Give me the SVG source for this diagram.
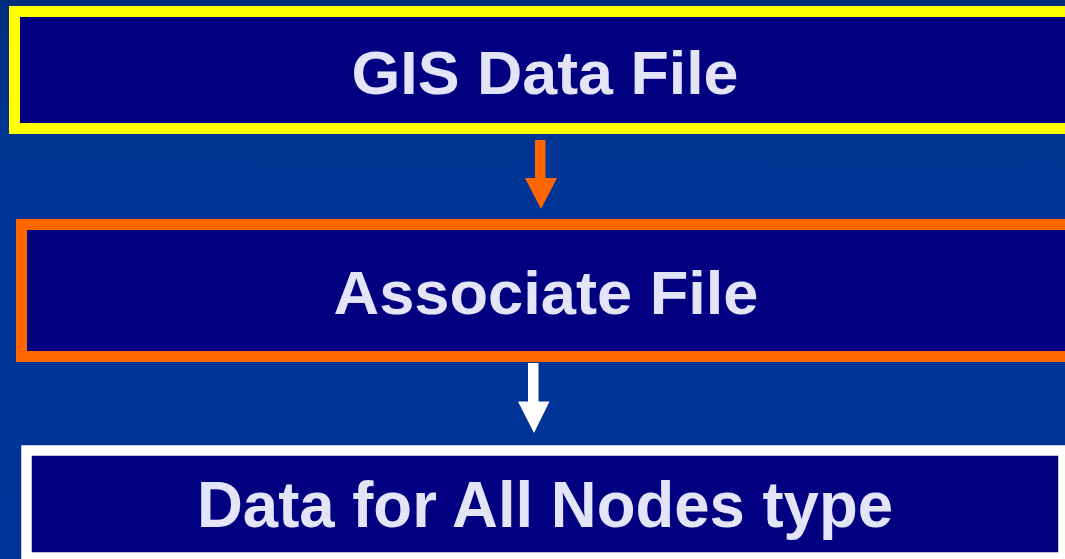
<svg xmlns="http://www.w3.org/2000/svg" width="1065" height="559" viewBox="0 0 1065 559">
<style>
.lbl{font-family:"Liberation Sans",Arial,sans-serif;font-weight:bold;font-size:62px;fill:#E4E4F8;text-anchor:middle}
.box{fill:#000080}
</style>
<defs>
<linearGradient id="bg" x1="0" y1="0" x2="0" y2="1">
<stop offset="0" stop-color="#002C7C"/>
<stop offset="0.25" stop-color="#003594"/>
<stop offset="1" stop-color="#003399"/>
</linearGradient>
</defs>
<rect width="1065" height="559" fill="url(#bg)"/>
<g id="node-gis">
<rect class="box" x="14.5" y="11.5" width="1070" height="117" stroke="#FFFF00" stroke-width="11"/>
<text class="lbl" x="545" y="94" textLength="387" lengthAdjust="spacingAndGlyphs">GIS Data File</text>
</g>
<g id="node-assoc">
<rect class="box" x="21.5" y="224.5" width="1070" height="132" stroke="#FF6600" stroke-width="11"/>
<text class="lbl" x="546" y="314" textLength="425" lengthAdjust="spacingAndGlyphs">Associate File</text>
</g>
<g id="node-data">
<rect class="box" x="26.5" y="450.5" width="1037" height="107" stroke="#FFFFFF" stroke-width="10.5"/>
<text class="lbl" x="545" y="527" style="font-size:64px" textLength="696" lengthAdjust="spacingAndGlyphs">Data for All Nodes type</text>
</g>
<g id="connectors">
<polygon points="535,140 545.5,140 545.5,178 557,178 541,209 525,178 535,178" fill="#FF6600"/>
<polygon points="528,363 538.5,363 538.5,401.5 549.5,401.5 534,433 518,401.5 528,401.5" fill="#FFFFFF"/>
</g>
</svg>
